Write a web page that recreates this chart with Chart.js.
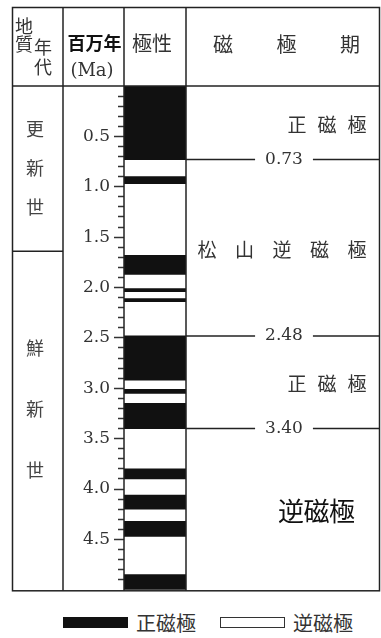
<!DOCTYPE html>
<html lang="ja">
<head>
<meta charset="utf-8">
<title>地磁気の極性と磁極期</title>
<script src="https://cdn.jsdelivr.net/npm/chart.js@4/dist/chart.umd.min.js"></script>
<style>
  body { margin: 0; background: #fff; }
  #wrap { position: relative; width: 381px; height: 638px; overflow: hidden; }
  #polarity-chart { position: absolute; left: 0; top: 0; }
  #legend { position: absolute; left: 0; top: 604px; width: 381px; height: 34px;
    font-family: "Noto Sans CJK JP", sans-serif; font-size: 20px; color: #333; }
  .legend-item { position: absolute; top: 0; height: 36px; display: flex; align-items: center; }
  .legend-box { width: 65px; height: 11px; margin-right: 8px; box-sizing: border-box; }
</style>
</head>
<body>
<div id="wrap">
  <canvas id="polarity-chart" width="381" height="604"></canvas>
  <div id="legend"></div>
</div>
<script>
// normal-polarity intervals [from, to] in Ma
const normalIntervals = [
  [0, 0.73], [0.90, 0.97], [1.68, 1.87], [2.01, 2.04], [2.11, 2.14],
  [2.48, 2.92], [3.01, 3.05], [3.15, 3.40],
  [3.80, 3.90], [4.06, 4.20], [4.32, 4.47], [4.85, 5.0],
];

// magnetic epochs and their boundaries
const epochNames = ['正磁極', '松山逆磁極', '正磁極', '逆磁極'];
const epochBounds = [0, 0.73, 2.48, 3.40, 5.0];

// geologic epochs
const eraNames = ['更新世', '鮮新世'];
const eraBounds = [0, 1.64, 5.0];

// time axis
const axisMin = 0;
const axisMax = 5;
const minorStep = 0.1;
const labelStep = 0.5;

const legendLabels = ['正磁極', '逆磁極'];

const JP = '"Noto Sans CJK JP", sans-serif';
const SERIF = '"DejaVu Serif", serif';

const isMajor = (v) => Math.abs(v / labelStep - Math.round(v / labelStep)) < 1e-6;

// text placement for the epoch and era columns
const epochLabelStyle = [
  { from: 297, to: 357, size: 19, color: '#333' },
  { from: 207, to: 357, size: 19, color: '#333' },
  { from: 297, to: 357, size: 19, color: '#333' },
  { from: 291, to: 342, size: 26, color: '#111' },
];
const eraLabelStyle = [
  { pitch: 39, shift: 0 },
  { pitch: 61, shift: -11 },
];

function spreadText(ctx, text, x1, x2, y) {
  const chars = [...text];
  const step = chars.length > 1 ? (x2 - x1) / (chars.length - 1) : 0;
  chars.forEach((ch, i) => ctx.fillText(ch, x1 + step * i, y));
}

function hLine(ctx, x1, x2, y) {
  ctx.beginPath();
  ctx.moveTo(x1, y);
  ctx.lineTo(x2, y);
  ctx.stroke();
}

function vLine(ctx, x, y1, y2) {
  ctx.beginPath();
  ctx.moveTo(x, y1);
  ctx.lineTo(x, y2);
  ctx.stroke();
}

// frame, headers and the epoch / era columns around the polarity column
const tablePlugin = {
  id: 'polarityTable',
  afterDraw(chart) {
    const { ctx, chartArea } = chart;
    const y = chart.scales.y;
    const left = 12.5;
    const right = 379.5;
    const top = 7.5;
    const head = chartArea.top;
    const bottom = y.getPixelForValue(axisMax) + 1;
    const eraCol = 63;
    const epochCol = chartArea.right;

    ctx.save();
    ctx.strokeStyle = '#222';
    ctx.lineWidth = 1.5;
    ctx.strokeRect(left, top, right - left, bottom - top);
    hLine(ctx, left, right, head);
    [eraCol, chartArea.left, epochCol].forEach((x) => vLine(ctx, x, top, bottom));

    // era divider
    eraBounds.slice(1, -1).forEach((v) => hLine(ctx, left, eraCol, y.getPixelForValue(v)));

    ctx.textAlign = 'center';
    ctx.textBaseline = 'middle';

    // epoch boundaries with their ages
    const labelX = 284;
    ctx.font = `17px ${SERIF}`;
    ctx.fillStyle = '#333';
    epochBounds.slice(1, -1).forEach((v) => {
      const py = y.getPixelForValue(v);
      const txt = v.toFixed(2);
      const half = ctx.measureText(txt).width / 2;
      hLine(ctx, epochCol, labelX - half - 10, py);
      hLine(ctx, labelX + half + 10, right, py);
      ctx.fillText(txt, labelX, py);
    });

    // epoch names
    epochNames.forEach((name, i) => {
      const s = epochLabelStyle[i];
      const py = (y.getPixelForValue(epochBounds[i]) + y.getPixelForValue(epochBounds[i + 1])) / 2 + 2;
      ctx.font = `${s.size}px ${JP}`;
      ctx.fillStyle = s.color;
      spreadText(ctx, name, s.from, s.to, py);
    });

    // era names, written vertically
    ctx.font = `18px ${JP}`;
    ctx.fillStyle = '#444';
    eraNames.forEach((name, i) => {
      const s = eraLabelStyle[i];
      const mid = (y.getPixelForValue(eraBounds[i]) + y.getPixelForValue(eraBounds[i + 1])) / 2 + s.shift;
      const chars = [...name];
      chars.forEach((ch, k) => ctx.fillText(ch, 35, mid + (k - (chars.length - 1) / 2) * s.pitch));
    });

    // header row
    ctx.fillStyle = '#333';
    ctx.font = `18px ${JP}`;
    ctx.fillText('地', 24, 26);
    ctx.fillText('質', 24, 44);
    ctx.fillText('年', 43, 47);
    ctx.fillText('代', 43, 67);
    ctx.fillStyle = '#111';
    ctx.font = `bold 18px ${JP}`;
    ctx.fillText('百万年', 94.5, 43);
    ctx.fillStyle = '#333';
    ctx.font = `18px ${SERIF}`;
    ctx.fillText('(Ma)', 92, 71);
    ctx.font = `20px ${JP}`;
    ctx.fillText('極性', 152, 43);
    spreadText(ctx, '磁極期', 223, 350, 44);
    ctx.restore();
  },
};

const polarityChart = new Chart(document.getElementById('polarity-chart'), {
  type: 'bar',
  data: {
    labels: ['極性'],
    datasets: [
      {
        label: legendLabels[0],
        data: normalIntervals.map(([from, to]) => ({ x: '極性', y: [from, to] })),
        backgroundColor: '#111',
        borderWidth: 0,
        barPercentage: 1,
        categoryPercentage: 1,
      },
    ],
  },
  options: {
    responsive: false,
    animation: false,
    layout: {
      padding: { top: 86, right: 195, bottom: 4, left: 0 },
    },
    plugins: {
      legend: { display: false },
      tooltip: { enabled: false },
    },
    scales: {
      x: {
        display: false,
      },
      y: {
        reverse: true,
        min: axisMin,
        max: axisMax,
        afterFit: (scale) => {
          scale.width = 124;
        },
        border: { display: false },
        grid: {
          drawOnChartArea: false,
          tickLength: 10,
          tickWidth: 1.5,
          tickColor: '#333',
          // minor ticks are drawn shorter than the labelled ones
          tickBorderDash: (ctx) => (ctx.tick && isMajor(ctx.tick.value) ? [] : [0, 4, 6, 0]),
        },
        ticks: {
          stepSize: minorStep,
          autoSkip: false,
          padding: 4,
          color: '#333',
          font: { family: 'DejaVu Serif', size: 17 },
          callback: (v) => {
            if (v <= axisMin || v >= axisMax) return null;
            return isMajor(v) ? v.toFixed(1) : '';
          },
        },
      },
    },
  },
  plugins: [tablePlugin],
});

// legend below the table
const legendEl = document.getElementById('legend');
const legendPos = [63, 220];
legendLabels.forEach((text, i) => {
  const item = document.createElement('div');
  item.className = 'legend-item';
  item.style.left = legendPos[i] + 'px';
  const box = document.createElement('span');
  box.className = 'legend-box';
  box.style.background = i === 0 ? '#111' : '#fff';
  if (i === 1) box.style.border = '1.5px solid #333';
  const label = document.createElement('span');
  label.textContent = text;
  item.appendChild(box);
  item.appendChild(label);
  legendEl.appendChild(item);
});
</script>
</body>
</html>
